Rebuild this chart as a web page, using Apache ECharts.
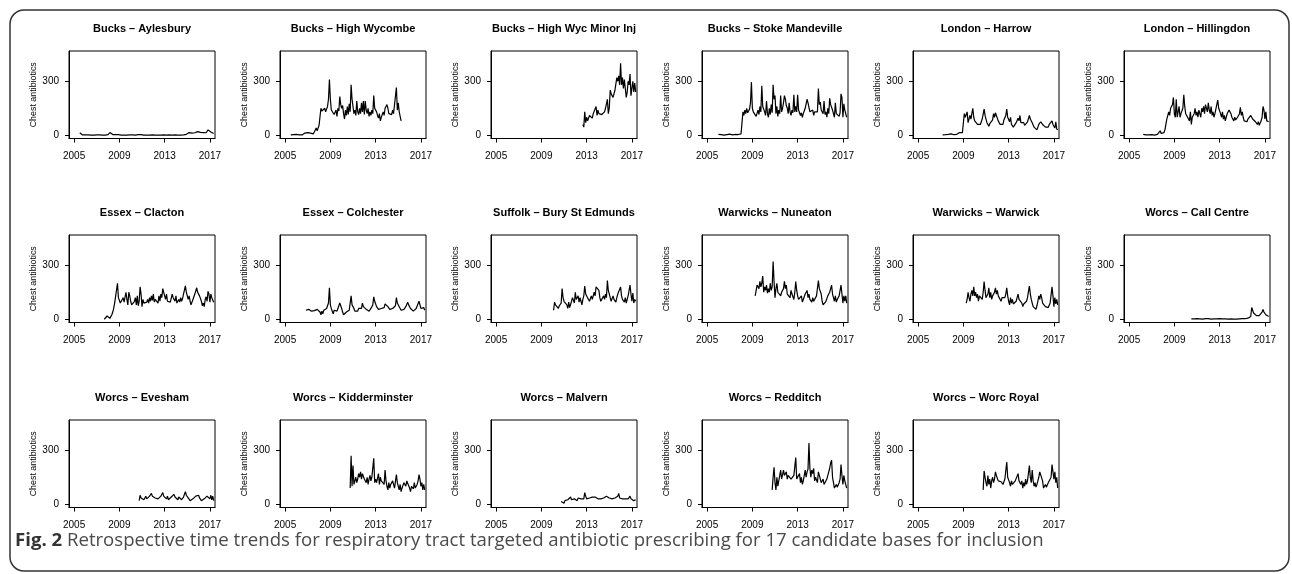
<!DOCTYPE html>
<html>
<head>
<meta charset="utf-8">
<script src="https://cdn.jsdelivr.net/npm/echarts@6/dist/echarts.min.js"></script>
<style>
html, body { margin: 0; padding: 0; background: #fff; }
#main { width: 1292px; height: 574px; }
</style>
</head>
<body>
<div id="main"></div>
<script>
// panel titles, reading order (3 rows x 6 columns)
var panelNames = [
    'Bucks \u2013 Aylesbury', 'Bucks \u2013 High Wycombe', 'Bucks \u2013 High Wyc Minor Inj',
    'Bucks \u2013 Stoke Mandeville', 'London \u2013 Harrow', 'London \u2013 Hillingdon',
    'Essex \u2013 Clacton', 'Essex \u2013 Colchester', 'Suffolk \u2013 Bury St Edmunds',
    'Warwicks \u2013 Nuneaton', 'Warwicks \u2013 Warwick', 'Worcs \u2013 Call Centre',
    'Worcs \u2013 Evesham', 'Worcs \u2013 Kidderminster', 'Worcs \u2013 Malvern',
    'Worcs \u2013 Redditch', 'Worcs \u2013 Worc Royal'
];

// first month of each monthly series [year, month]
var seriesStart = [
    [2005, 7], [2005, 7], [2012, 9], [2006, 1], [2007, 3], [2006, 4],
    [2007, 9], [2006, 11], [2010, 2], [2009, 4], [2009, 4], [2010, 7],
    [2010, 10], [2010, 10], [2010, 10], [2010, 10], [2010, 10]
];

// monthly chest antibiotic counts
var aylesbury = [14,4,3,2,3,2,
    2,2,1,2,2,1,1,2,2,1,2,2,
    2,1,1,2,1,1,1,2,1,1,2,1,
    3,8,15,10,6,4,5,8,3,4,2,3,
    3,2,1,2,1,1,2,1,1,2,3,2,
    5,3,2,1,2,1,1,2,3,2,4,3,
    2,2,1,1,2,1,1,2,1,1,2,2,
    3,2,1,1,1,1,2,1,1,2,1,2,
    2,1,1,1,1,2,1,1,1,2,1,2,
    3,2,1,1,2,1,1,2,2,3,4,5,
    8,12,15,10,18,12,15,10,14,18,16,20,
    18,14,16,12,10,15,12,18,14,20,30,22,
    28,18,25,15,10];
var highWycombe = [2,3,1,4,6,3,
    5,8,3,2,4,6,2,5,8,12,6,10,
    15,8,5,12,6,10,8,5,10,40,25,30,
    55,45,150,135,140,125,150,130,145,160,200,310,
    200,140,130,140,115,110,140,105,150,135,215,170,
    150,165,120,90,140,110,160,115,175,130,280,200,
    210,120,140,110,190,130,115,150,120,180,130,190,
    115,190,140,120,150,105,130,110,140,120,220,150,
    160,130,110,95,120,80,100,90,130,110,150,140,
    170,150,120,130,110,115,140,120,130,125,265,140,
    180,130,120,80];
var minorInj = [60,45,130,70,
    100,80,70,110,120,100,95,120,110,125,160,110,
    140,120,130,110,115,125,110,130,150,140,200,120,
    150,250,230,240,210,200,250,260,320,300,330,280,
    400,280,320,260,310,260,210,240,300,280,340,220,
    260,300,240,290,240];
var stokeMandeville = [5,3,2,4,3,2,1,3,2,4,3,5,
    6,4,3,2,3,12,5,3,2,4,6,5,
    8,10,130,110,140,120,150,125,130,145,180,295,
    150,130,120,140,105,110,140,115,160,130,275,160,
    170,130,110,190,120,100,150,115,170,125,280,200,
    220,120,160,105,140,120,220,130,150,180,220,200,
    165,150,120,180,130,110,140,125,225,130,160,130,
    225,140,130,110,125,100,120,135,150,140,200,180,
    190,130,125,120,140,110,130,125,140,130,260,170,
    185,140,130,120,190,115,130,100,150,120,205,170,
    175,140,130,100,180,120,110,130,105,125,230,210,
    100,175,140,120,100];
var harrow = [2,5,8,3,6,10,5,12,4,8,
    10,6,3,2,4,5,8,12,15,10,20,15,
    12,120,100,90,130,70,80,110,90,120,150,100,
    80,70,90,60,55,65,60,70,90,100,145,110,
    90,70,60,50,65,55,70,85,120,100,125,110,
    95,80,70,60,65,55,60,85,90,110,145,100,
    90,75,100,60,55,45,40,55,70,80,95,80,
    110,70,65,60,70,55,65,60,75,80,110,90,
    85,70,60,45,40,35,30,45,60,70,75,65,
    60,55,50,45,40,50,45,60,55,70,80,60,
    50,40,75,35,30];
var hillingdon = [5,3,2,2,1,3,2,2,4,
    3,2,2,1,3,2,5,4,8,25,10,15,
    20,15,30,60,90,100,130,110,150,140,170,210,
    120,100,200,100,110,160,100,120,130,150,225,160,
    120,110,100,90,80,130,60,100,110,120,150,110,
    130,100,140,120,100,150,130,160,120,170,180,130,
    180,140,120,160,110,130,100,120,110,130,195,150,
    140,120,100,130,90,110,80,100,120,110,140,130,
    120,100,90,80,100,85,90,100,110,120,155,110,
    130,100,80,70,85,75,90,80,100,110,105,90,
    100,80,75,65,60,75,55,45,80,100,160,140,
    90,130,80,70,75];
var clacton = [0,5,10,18,
    20,15,5,10,25,40,60,90,80,100,200,120,
    110,90,100,80,120,95,100,150,110,80,150,130,
    100,80,90,70,100,120,80,130,75,100,180,140,
    70,110,90,80,100,95,110,90,120,100,130,105,
    140,95,110,100,120,90,130,100,140,120,170,150,
    130,110,140,100,90,110,95,100,140,120,130,100,
    130,90,100,110,95,120,100,115,140,130,185,150,
    150,110,130,100,80,95,110,120,140,130,175,150,
    160,130,120,100,75,90,70,110,125,100,155,140,
    95,140,120,130,95];
var colchester = [50,45,
    50,55,48,52,45,50,55,48,52,50,55,60,
    50,40,25,45,30,50,55,45,60,70,90,175,
    80,60,55,30,50,40,55,45,60,70,90,85,
    60,40,25,30,35,40,30,45,50,60,130,80,
    90,60,45,50,55,45,60,50,70,60,90,70,
    80,65,55,60,50,45,55,60,70,80,125,100,
    90,70,60,55,45,50,60,55,70,65,85,75,
    80,70,60,55,65,50,60,55,70,75,120,90,
    85,70,60,50,55,45,55,60,70,65,95,80,
    75,60,55,50,45,55,50,60,70,65,100,90,
    60,70,50,65,50];
var buryStEdmunds = [50,95,80,70,85,60,75,70,90,170,120,
    100,110,90,80,60,95,65,60,100,120,110,90,
    150,110,100,130,95,120,100,80,110,130,185,140,
    140,120,110,100,95,130,110,120,150,130,180,170,
    180,160,120,100,110,95,130,110,140,120,215,160,
    150,120,100,95,130,110,100,95,120,140,130,150,
    180,130,110,100,95,120,90,110,130,120,190,140,
    100,145,90,110,100];
var nuneaton = [130,160,190,200,170,210,180,200,240,
    150,180,160,190,145,170,150,200,160,180,320,210,
    120,170,200,150,140,160,130,150,140,170,210,170,
    190,140,130,150,120,160,140,130,110,150,210,160,
    130,110,120,100,130,95,110,120,140,130,160,120,
    140,110,100,95,120,100,110,90,130,140,215,170,
    170,140,100,80,90,85,100,110,130,140,150,160,
    190,140,120,100,130,95,110,100,130,120,190,140,
    90,130,100,130,90];
var warwick = [90,110,150,120,100,140,160,130,180,
    130,150,120,140,100,130,120,140,110,150,210,160,
    120,110,140,175,120,150,110,130,120,150,175,140,
    160,130,120,140,100,120,110,130,120,140,175,130,
    100,80,120,90,110,85,80,95,100,120,140,110,
    120,100,90,70,85,75,90,100,120,130,185,140,
    110,90,70,80,60,55,75,100,130,110,140,120,
    90,100,80,70,60,80,65,75,90,100,180,130,
    70,120,85,110,80];
var callCentre = [2,1,3,2,4,3,
    3,2,1,2,3,2,1,4,2,3,5,3,
    4,2,3,1,2,3,2,1,3,2,6,4,
    3,2,1,2,1,1,2,1,2,1,2,1,
    2,1,1,1,2,1,1,2,1,2,3,2,
    3,2,4,3,5,4,6,8,10,15,65,50,
    35,40,30,20,15,25,20,18,30,40,55,40,
    30,25,20,18,15];
var evesham = [20,50,35,
    30,40,25,35,45,30,35,40,45,50,60,45,
    50,40,35,30,45,30,35,40,45,50,65,45,
    40,35,30,45,25,35,30,40,45,50,55,40,
    45,30,25,40,30,35,25,30,40,45,70,50,
    40,35,25,20,30,25,30,35,40,45,55,45,
    50,35,25,20,30,25,30,35,40,45,55,35,
    30,50,25,45,20];
var kidderminster = [90,270,100,
    215,110,130,150,120,140,170,150,180,140,170,160,
    140,130,120,150,110,140,160,130,150,140,255,120,
    140,120,130,170,110,150,130,140,120,110,190,130,
    100,80,120,90,110,100,130,110,90,100,165,120,
    100,80,110,70,90,95,120,110,100,130,140,120,
    90,70,100,110,85,120,90,100,110,130,165,140,
    100,120,80,110,80];
var malvern = [15,25,10,
    5,20,10,15,25,20,30,40,25,30,35,30,
    25,30,20,35,30,25,30,35,40,30,65,45,
    30,25,20,35,30,25,40,30,35,40,45,35,
    30,25,35,30,25,30,35,30,40,45,55,40,
    35,30,25,30,25,30,35,30,40,45,60,35,
    30,25,30,20,25,30,35,25,30,40,45,30,
    25,35,20,30,25];
var redditch = [80,150,205,
    120,80,150,100,130,120,190,140,150,190,160,150,
    180,140,160,150,170,140,150,130,160,150,260,140,
    150,130,170,120,150,110,130,120,190,150,180,195,
    340,200,150,190,170,200,130,150,140,120,180,160,
    150,120,130,140,110,100,120,140,160,150,200,230,
    245,150,120,90,100,110,95,100,120,140,220,160,
    110,160,130,120,90];
var worcRoyal = [80,185,150,
    120,100,160,110,140,90,130,150,120,140,180,160,
    150,130,120,140,125,130,110,120,140,130,235,150,
    140,120,100,130,110,120,100,130,120,140,170,130,
    120,110,130,90,120,100,140,110,130,120,215,150,
    120,190,130,100,120,95,110,130,150,180,190,185,
    130,90,100,110,95,100,120,110,130,150,220,180,
    140,180,120,150,90];

var panelValues = [aylesbury, highWycombe, minorInj, stokeMandeville, harrow, hillingdon,
    clacton, colchester, buryStEdmunds, nuneaton, warwick, callCentre,
    evesham, kidderminster, malvern, redditch, worcRoyal];

var xTicks = [2005, 2009, 2013, 2017];
var yTicks = [0, 300];
var yName = 'Chest antibiotics';
var caption = 'Retrospective time trends for respiratory tract targeted antibiotic prescribing for 17 candidate bases for inclusion';

// layout of the small multiples
var colLeft = [69, 280, 491, 702, 913, 1124];
var rowTop = [51, 235, 420];
var boxW = 146, boxH = 87.5;
var font = '"Liberation Sans", Arial, Helvetica, sans-serif';
var narrow = '"Liberation Sans Narrow", "Arial Narrow", "Liberation Sans", sans-serif';

var grids = [], xAxes = [], yAxes = [], series = [], graphics = [];

panelNames.forEach(function (name, i) {
    var col = i % 6, row = Math.floor(i / 6);
    var left = colLeft[col], top = rowTop[row];
    grids.push({ left: left, top: top, width: boxW, height: boxH,
        show: true, borderColor: '#000', borderWidth: 1, backgroundColor: 'transparent' });
    xAxes.push({
        gridIndex: i, type: 'value', min: 2004.55, max: 2017.45,
        axisLine: { show: true, onZero: false, lineStyle: { color: '#000', width: 1 } },
        axisTick: { show: true, inside: false, length: 4, customValues: xTicks, lineStyle: { color: '#000' } },
        axisLabel: { customValues: xTicks, margin: 13, fontSize: 10, color: '#000', fontFamily: narrow,
            formatter: function (v) { return String(v); } },
        splitLine: { show: false }
    });
    yAxes.push({
        gridIndex: i, type: 'value', min: -18, max: 468,
        name: yName, nameLocation: 'middle', nameGap: 31,
        nameTextStyle: { fontSize: 8.9, color: '#000', fontFamily: font },
        axisLine: { show: true, lineStyle: { color: '#000', width: 1 } },
        axisTick: { show: true, inside: false, length: 4, customValues: yTicks, lineStyle: { color: '#000' } },
        axisLabel: { customValues: yTicks, margin: 10, fontSize: 10, color: '#000', fontFamily: narrow },
        splitLine: { show: false }
    });
    var st = seriesStart[i];
    var pts = panelValues[i].map(function (v, k) {
        return [st[0] + (st[1] - 1 + k) / 12, v];
    });
    series.push({
        type: 'line', xAxisIndex: i, yAxisIndex: i, data: pts,
        showSymbol: false, clip: true, animation: false,
        lineStyle: { color: '#000', width: 1.2 }
    });
    graphics.push({
        type: 'text', x: left + boxW / 2, y: top - 22,
        style: { text: name, align: 'center', verticalAlign: 'middle',
            font: 'bold 11px ' + font, fill: '#000' }
    });
});

// outer rounded frame
graphics.push({
    type: 'rect', shape: { x: 10, y: 10, width: 1279, height: 561, r: 14 },
    style: { fill: 'none', stroke: '#333', lineWidth: 1.5 }, silent: true
});
// figure caption
graphics.push({
    type: 'text', x: 15, y: 541,
    style: {
        text: '{b|Fig. 2} ' + caption,
        verticalAlign: 'middle',
        font: '18.6px "Open Sans", sans-serif', fill: '#4a4a4a',
        rich: { b: { fontWeight: 'bold', fontSize: 18.6, fontFamily: '"Open Sans", sans-serif', fill: '#333' } }
    }
});

var chart = echarts.init(document.getElementById('main'), null, { renderer: 'canvas' });
chart.setOption({
    animation: false,
    backgroundColor: '#fff',
    grid: grids,
    xAxis: xAxes,
    yAxis: yAxes,
    series: series,
    graphic: graphics
});
</script>
</body>
</html>
